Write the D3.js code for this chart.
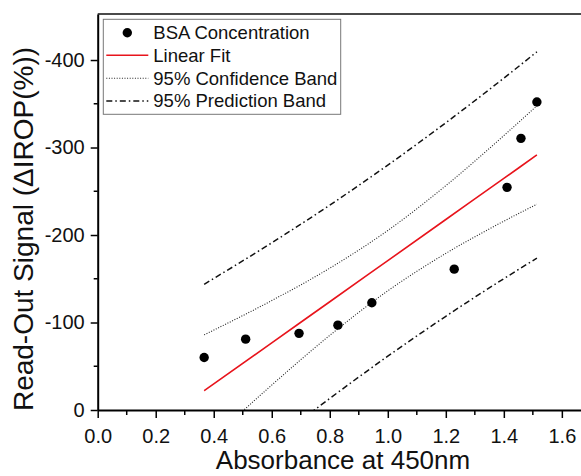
<!DOCTYPE html>
<html>
<head>
<meta charset="utf-8">
<script src="https://cdn.jsdelivr.net/npm/d3@7"></script>
<style>
  body { margin: 0; background: #fff; }
  svg { display: block; font-family: Arial, "Liberation Sans", sans-serif; }
</style>
</head>
<body>
<div id="chart"></div>
<script>
// measured points
const absorbance = [0.367, 0.51, 0.694, 0.828, 0.945, 1.229, 1.411, 1.459, 1.514];
const signal = [-60, -81, -87.6, -97, -122.6, -161, -254.5, -310.5, -352];

// fit and bands, read at a few x positions
const bandX = [0.367, 0.6, 0.8, 1.0, 1.2, 1.4, 1.514];
const fitY = [-22.0, -76.8, -123.7, -170.7, -217.7, -264.7, -291.5];
const confUpper = [-85.9, -125.1, -162.1, -205.2, -256.4, -313.6, -347.8];
const confLower = [41.9, -28.5, -85.3, -136.2, -179.0, -215.8, -235.2];
const predUpper = [-143.7, -191.1, -234.2, -279.9, -328.3, -379.3, -409.4];
const predLower = [99.7, 37.5, -13.2, -61.5, -107.1, -150.1, -173.6];

const xTicks = [0, 0.2, 0.4, 0.6, 0.8, 1.0, 1.2, 1.4, 1.6];
const xMinor = [0.1, 0.3, 0.5, 0.7, 0.9, 1.1, 1.3, 1.5];
const yTicks = [0, -100, -200, -300, -400];
const yMinor = [-50, -150, -250, -350];

const legendLabels = ['BSA Concentration', 'Linear Fit', '95% Confidence Band', '95% Prediction Band'];

const width = 581, height = 476;
const plotLeft = 97.7, plotRight = 581, plotTop = 14, plotBottom = 410;

const svg = d3.select('#chart').append('svg')
  .attr('width', width).attr('height', height);

const x = d3.scaleLinear().domain([0, 1.666]).range([plotLeft, plotRight]);
const y = d3.scaleLinear().domain([0, -452.6]).range([plotBottom, plotTop]);

svg.append('clipPath').attr('id', 'plot')
  .append('rect')
  .attr('x', plotLeft).attr('y', plotTop)
  .attr('width', plotRight - plotLeft).attr('height', plotBottom - plotTop);

const styles = {
  fit: { stroke: '#e8141c', width: 1.6, dash: null },
  conf: { stroke: '#222', width: 1.1, dash: '1,1.6' },
  pred: { stroke: '#111', width: 1.5, dash: '6,3,1.5,3' }
};

const line = d3.line()
  .x(d => x(d[0]))
  .y(d => y(d[1]))
  .curve(d3.curveMonotoneX);

const g = svg.append('g').attr('clip-path', 'url(#plot)');

function drawCurve(values, st) {
  g.append('path')
    .datum(bandX.map((v, i) => [v, values[i]]))
    .attr('d', line)
    .attr('fill', 'none')
    .attr('stroke', st.stroke)
    .attr('stroke-width', st.width)
    .attr('stroke-dasharray', st.dash);
}

drawCurve(predUpper, styles.pred);
drawCurve(predLower, styles.pred);
drawCurve(confUpper, styles.conf);
drawCurve(confLower, styles.conf);
drawCurve(fitY, styles.fit);

g.selectAll('.dot')
  .data(absorbance)
  .enter()
    .append('circle')
    .attr('class', 'dot')
    .attr('cx', d => x(d))
    .attr('cy', (d, i) => y(signal[i]))
    .attr('r', 4.7)
    .attr('fill', '#000');

// top frame
svg.append('line')
  .attr('x1', plotLeft).attr('x2', plotRight)
  .attr('y1', plotTop).attr('y2', plotTop)
  .attr('stroke', '#4a4a4a').attr('stroke-width', 2);

// axes
const xAxis = d3.axisBottom(x)
  .tickValues(xTicks)
  .tickFormat(d3.format('.1f'))
  .tickSize(8).tickPadding(11).tickSizeOuter(0);

const xg = svg.append('g')
  .attr('transform', 'translate(0,' + plotBottom + ')')
  .call(xAxis);

xg.selectAll('.minor')
  .data(xMinor)
  .enter()
    .append('line')
    .attr('class', 'minor')
    .attr('x1', d => x(d)).attr('x2', d => x(d))
    .attr('y1', 0).attr('y2', 5)
    .attr('stroke', '#000').attr('stroke-width', 1.5);

const yAxis = d3.axisLeft(y)
  .tickValues(yTicks)
  .tickFormat(d => d === 0 ? '0' : String(d))
  .tickSize(7).tickPadding(6).tickSizeOuter(0);

const yg = svg.append('g')
  .attr('transform', 'translate(' + plotLeft + ',0)')
  .call(yAxis);

yg.selectAll('.minor')
  .data(yMinor)
  .enter()
    .append('line')
    .attr('class', 'minor')
    .attr('x1', 0).attr('x2', -4)
    .attr('y1', d => y(d)).attr('y2', d => y(d))
    .attr('stroke', '#000').attr('stroke-width', 1.5);

[xg, yg].forEach(a => {
  a.select('.domain').attr('stroke', '#000').attr('stroke-width', 2);
  a.selectAll('.tick line').attr('stroke', '#000').attr('stroke-width', 1.5);
  a.selectAll('.tick text')
    .attr('font-size', '20px')
    .attr('font-family', 'Arial, "Liberation Sans", sans-serif')
    .attr('fill', '#111');
});

// axis titles
svg.append('text')
  .attr('x', 343).attr('y', 469)
  .attr('text-anchor', 'middle')
  .attr('font-size', '26px')
  .attr('fill', '#111')
  .text('Absorbance at 450nm');

svg.append('text')
  .attr('transform', 'rotate(-90)')
  .attr('x', -229).attr('y', 33)
  .attr('text-anchor', 'middle')
  .attr('font-size', '28px')
  .attr('fill', '#111')
  .text('Read-Out Signal (\u0394IROP(%))');

// legend
const legend = svg.append('g').attr('transform', 'translate(103.3,19.3)');

legend.append('rect')
  .attr('width', 237.4).attr('height', 95)
  .attr('fill', '#fff')
  .attr('stroke', '#777').attr('stroke-width', 1);

const rowY = [13.4, 35.9, 59, 81.7];

const items = legend.selectAll('.legend')
  .data(legendLabels)
  .enter()
    .append('g')
    .attr('class', 'legend')
    .attr('transform', (d, i) => 'translate(0,' + rowY[i] + ')');

items.append('text')
  .attr('x', 50).attr('y', 0)
  .attr('dy', '0.35em')
  .attr('font-size', '18.5px')
  .attr('fill', '#111')
  .text(d => d);

items.filter((d, i) => i === 0)
  .append('circle')
  .attr('cx', 24).attr('cy', 0).attr('r', 4.7).attr('fill', '#000');

const keyStyles = [null, styles.fit, styles.conf, styles.pred];
items.filter((d, i) => i > 0)
  .append('line')
  .attr('x1', 3).attr('x2', 45)
  .attr('y1', 0).attr('y2', 0)
  .attr('stroke', (d, i) => keyStyles[i + 1].stroke)
  .attr('stroke-width', (d, i) => keyStyles[i + 1].width)
  .attr('stroke-dasharray', (d, i) => keyStyles[i + 1].dash);
</script>
</body>
</html>
